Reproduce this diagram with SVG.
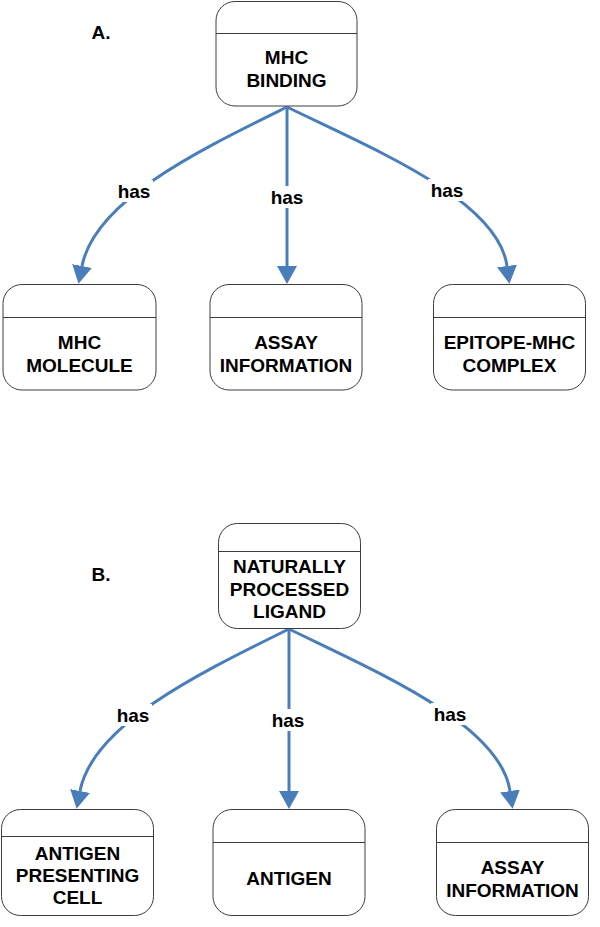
<svg xmlns="http://www.w3.org/2000/svg" width="600" height="927" viewBox="0 0 600 927">
<style>
.box{fill:#fff;stroke:#3c3c3c;stroke-width:1}
.div{stroke:#3c3c3c;stroke-width:1}
.t{font-family:"Liberation Sans",Arial,sans-serif;font-weight:bold;font-size:19px;fill:#000;text-anchor:middle}
.lbl{font-family:"Liberation Sans",Arial,sans-serif;font-weight:bold;font-size:19px;fill:#000;text-anchor:middle}
.e{fill:none;stroke:#4A7EBB;stroke-width:3;marker-end:url(#ah)}
.bg{fill:#fff}
</style>
<defs>
<marker id="ah" viewBox="0 0 18 20" refX="0" refY="10" markerWidth="18" markerHeight="20" markerUnits="userSpaceOnUse" orient="auto">
<path d="M0,0 L18,10 L0,20 z" fill="#4A7EBB"/>
</marker>
</defs>
<rect width="600" height="927" fill="#fff"/>
<text class="t" x="101" y="39">A.</text>
<text class="t" x="101" y="581">B.</text>

<g id="connectors">
<path class="e" d="M287,107 C200,150 95,200 82,266"/>
<path class="e" d="M287,107 L287,266"/>
<path class="e" d="M287,107 C375,150 498,200 507,266"/>
<path class="e" d="M289,629 C202,672 93,724 80,791"/>
<path class="e" d="M289,629 L289,791"/>
<path class="e" d="M289,629 C377,672 500,724 510,791"/>
<rect class="bg" x="115" y="180" width="38" height="22"/>
<text class="lbl" x="134" y="198">has</text>
<rect class="bg" x="268" y="186" width="38" height="22"/>
<text class="lbl" x="287" y="204">has</text>
<rect class="bg" x="428" y="179" width="38" height="22"/>
<text class="lbl" x="447" y="197">has</text>
<rect class="bg" x="114" y="704" width="38" height="22"/>
<text class="lbl" x="133" y="722">has</text>
<rect class="bg" x="269" y="709" width="38" height="22"/>
<text class="lbl" x="288" y="727">has</text>
<rect class="bg" x="431" y="703" width="38" height="22"/>
<text class="lbl" x="450" y="721">has</text>
</g>

<g id="mhc-binding">
<rect class="box" x="216" y="1.5" width="141" height="104.5" rx="19"/>
<line class="div" x1="216" y1="33.5" x2="357" y2="33.5"/>
<text class="t" x="286.5" y="64">MHC</text>
<text class="t" x="286.5" y="87">BINDING</text>
</g>
<g id="mhc-molecule">
<rect class="box" x="3" y="284.5" width="153" height="105.5" rx="19"/>
<line class="div" x1="3" y1="317.5" x2="156" y2="317.5"/>
<text class="t" x="79.5" y="349">MHC</text>
<text class="t" x="79.5" y="372">MOLECULE</text>
</g>
<g id="assay-information-a">
<rect class="box" x="210" y="284.5" width="152" height="105.5" rx="19"/>
<line class="div" x1="210" y1="317.5" x2="362" y2="317.5"/>
<text class="t" x="286" y="349">ASSAY</text>
<text class="t" x="286" y="372">INFORMATION</text>
</g>
<g id="epitope-mhc-complex">
<rect class="box" x="433.5" y="284.5" width="152" height="105.5" rx="19"/>
<line class="div" x1="433.5" y1="317.5" x2="585.5" y2="317.5"/>
<text class="t" x="509.5" y="349">EPITOPE-MHC</text>
<text class="t" x="509.5" y="372">COMPLEX</text>
</g>

<g id="naturally-processed-ligand">
<rect class="box" x="218.5" y="523.5" width="142" height="105" rx="19"/>
<line class="div" x1="218.5" y1="551.5" x2="360.5" y2="551.5"/>
<text class="t" x="289.5" y="573">NATURALLY</text>
<text class="t" x="289.5" y="596">PROCESSED</text>
<text class="t" x="289.5" y="618">LIGAND</text>
</g>
<g id="antigen-presenting-cell">
<rect class="box" x="1.5" y="809.5" width="152" height="106" rx="19"/>
<line class="div" x1="1.5" y1="836.5" x2="153.5" y2="836.5"/>
<text class="t" x="77.5" y="860">ANTIGEN</text>
<text class="t" x="77.5" y="882">PRESENTING</text>
<text class="t" x="77.5" y="904">CELL</text>
</g>
<g id="antigen">
<rect class="box" x="213" y="809.5" width="152" height="106" rx="19"/>
<line class="div" x1="213" y1="842.5" x2="365" y2="842.5"/>
<text class="t" x="289" y="885">ANTIGEN</text>
</g>
<g id="assay-information-b">
<rect class="box" x="436.5" y="809.5" width="152" height="106" rx="19"/>
<line class="div" x1="436.5" y1="842.5" x2="588.5" y2="842.5"/>
<text class="t" x="512.5" y="874">ASSAY</text>
<text class="t" x="512.5" y="897">INFORMATION</text>
</g>
</svg>
